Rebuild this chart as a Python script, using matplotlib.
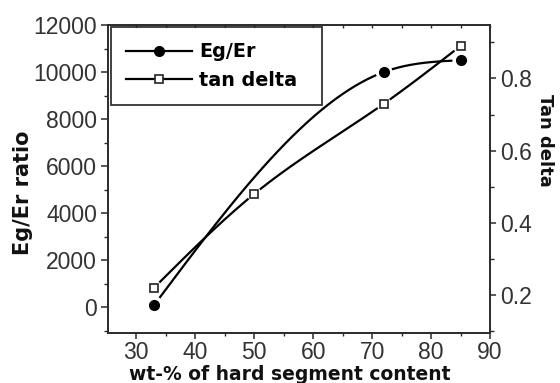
import numpy as np
import matplotlib
matplotlib.use("Agg")
import matplotlib.pyplot as plt
from matplotlib.ticker import MultipleLocator
from matplotlib.lines import Line2D

# Hard segment content (wt-%) and the measured properties
content_eg = [33, 72, 85]
eg_er_ratio = [80, 10000, 10500]

content_tan = [33, 50, 72, 85]
tan_delta = [0.22, 0.48, 0.73, 0.89]

x_ticks = [30, 40, 50, 60, 70, 80, 90]
left_ticks = [0, 2000, 4000, 6000, 8000, 10000, 12000]
right_ticks = [0.2, 0.4, 0.6, 0.8]


def natural_spline(x, y, n=400):
    """Natural cubic spline through (x, y), evaluated on a dense grid."""
    x = np.asarray(x, float)
    y = np.asarray(y, float)
    k = len(x)
    h = np.diff(x)
    A = np.zeros((k, k))
    b = np.zeros(k)
    A[0, 0] = A[-1, -1] = 1.0
    for i in range(1, k - 1):
        A[i, i - 1] = h[i - 1]
        A[i, i] = 2 * (h[i - 1] + h[i])
        A[i, i + 1] = h[i]
        b[i] = 6 * ((y[i + 1] - y[i]) / h[i] - (y[i] - y[i - 1]) / h[i - 1])
    M = np.linalg.solve(A, b)
    xs = np.linspace(x[0], x[-1], n)
    idx = np.clip(np.searchsorted(x, xs) - 1, 0, k - 2)
    x0, x1 = x[idx], x[idx + 1]
    y0, y1 = y[idx], y[idx + 1]
    m0, m1 = M[idx], M[idx + 1]
    hh = x1 - x0
    ys = (m0 * (x1 - xs) ** 3 / (6 * hh) + m1 * (xs - x0) ** 3 / (6 * hh)
          + (y0 / hh - m0 * hh / 6) * (x1 - xs)
          + (y1 / hh - m1 * hh / 6) * (xs - x0))
    return xs, ys


def gap_near_markers(ax, xm, ym, xs, ys, radius_px):
    """Blank the curve where it comes within radius_px of its own symbols."""
    curve = ax.transData.transform(np.column_stack([xs, ys]))
    marks = ax.transData.transform(np.column_stack([xm, ym]))
    d = np.min(np.linalg.norm(curve[:, None, :] - marks[None, :, :], axis=2), axis=1)
    ys = ys.copy()
    ys[d < radius_px] = np.nan
    return ys


fig = plt.figure(figsize=(5.6, 3.83), dpi=100)
fig.patch.set_facecolor("white")

ax = fig.add_axes([108 / 560, 1 - 333 / 383, 382 / 560, 308 / 383])
ax2 = ax.twinx()

ax.set_xlim(25.2, 90)
ax.set_ylim(-1100, 12000)
ax2.set_ylim(0.095, 0.948)

spine_col = "#2a2a2a"
tick_font = {"family": "Liberation Sans", "size": 16.5}
text_col = "#333333"

# Eg/Er ratio curve (left axis)
xs, ys = natural_spline(content_eg, eg_er_ratio)
ys = gap_near_markers(ax, content_eg, eg_er_ratio, xs, ys, 9)
ax.plot(xs, ys, color="black", lw=1.6, zorder=3)
ax.plot(content_eg, eg_er_ratio, linestyle="none", marker="o", ms=7.0,
        mfc="black", mec="black", zorder=4)

# tan delta curve (right axis)
xt, yt = natural_spline(content_tan, tan_delta)
yt = gap_near_markers(ax2, content_tan, tan_delta, xt, yt, 8)
ax2.plot(xt, yt, color="black", lw=1.6, zorder=3)
ax2.plot(content_tan, tan_delta, linestyle="none", marker="s", ms=6.0,
         mfc="white", mec="#222222", mew=1.2, zorder=4)

# Ticks
ax.set_xticks(x_ticks)
ax.xaxis.set_minor_locator(MultipleLocator(5))
ax.set_yticks(left_ticks)
ax.yaxis.set_minor_locator(MultipleLocator(1000))
ax2.set_yticks(right_ticks)
ax2.yaxis.set_minor_locator(MultipleLocator(0.1))

ax.set_xticklabels([str(v) for v in x_ticks], **tick_font, color=text_col)
ax.set_yticklabels([str(v) for v in left_ticks], **tick_font, color=text_col)
ax2.set_yticklabels([f"{v:.1f}" for v in right_ticks], **tick_font, color=text_col)

ax.tick_params(axis="x", which="major", direction="out", length=4.5, width=1.1,
               pad=1.5, color=spine_col, top=False)
ax.tick_params(axis="x", which="minor", direction="out", length=2.5, width=1.0,
               color=spine_col, top=False)
ax.tick_params(axis="y", which="major", direction="out", length=5, width=1.1,
               pad=3, color=spine_col, right=False)
ax.tick_params(axis="y", which="minor", direction="out", length=3, width=1.0,
               color=spine_col, right=False)
ax2.tick_params(axis="y", which="major", direction="out", length=4, width=1.1,
                pad=3, color=spine_col)
ax2.tick_params(axis="y", which="minor", direction="out", length=3, width=1.0,
                color=spine_col)

top = ax.secondary_xaxis("top")
top.set_xticks(np.arange(30, 91, 5))
top.tick_params(direction="in", length=2.5, width=1.0, color=spine_col,
                labeltop=False)
top.spines["top"].set_visible(False)

for a in (ax, ax2):
    for s in a.spines.values():
        s.set_linewidth(1.2)
        s.set_color(spine_col)

# Legend
handles = [
    Line2D([], [], color="black", lw=1.6, marker="o", ms=7.0, mfc="black", mec="black"),
    Line2D([], [], color="black", lw=1.6, marker="s", ms=6.0, mfc="white",
           mec="#222222", mew=1.2),
]
leg = ax.legend(handles, ["Eg/Er", "tan delta"], loc="upper left",
                bbox_to_anchor=(111 / 560, 1 - 103 / 383, 211 / 560, 76 / 383),
                bbox_transform=fig.transFigure, mode="expand",
                borderaxespad=0, frameon=True, fancybox=False, handlelength=3.4,
                handletextpad=0.4, borderpad=0.8, labelspacing=0.5,
                prop={"family": "DejaVu Sans", "weight": "bold", "size": 13.8})
leg.get_frame().set_edgecolor("black")
leg.get_frame().set_linewidth(1.3)
leg.set_zorder(10)

# Axis titles
fig.text(23 / 560, 1 - 193 / 383, "Eg/Er ratio", rotation=90, ha="center", va="center",
         family="DejaVu Sans", weight="bold", size=15, color="#111111")
fig.text(545 / 560, 1 - 140 / 383, "Tan delta", rotation=-90, ha="center", va="center",
         family="DejaVu Sans", weight="bold", size=13, color="#111111")
fig.text(290 / 560, 1 - 374 / 383, "wt-% of hard segment content", ha="center",
         va="center", family="DejaVu Sans", weight="bold", size=13.5, color="#111111")

fig.savefig("out.png", dpi=100, facecolor="white")
